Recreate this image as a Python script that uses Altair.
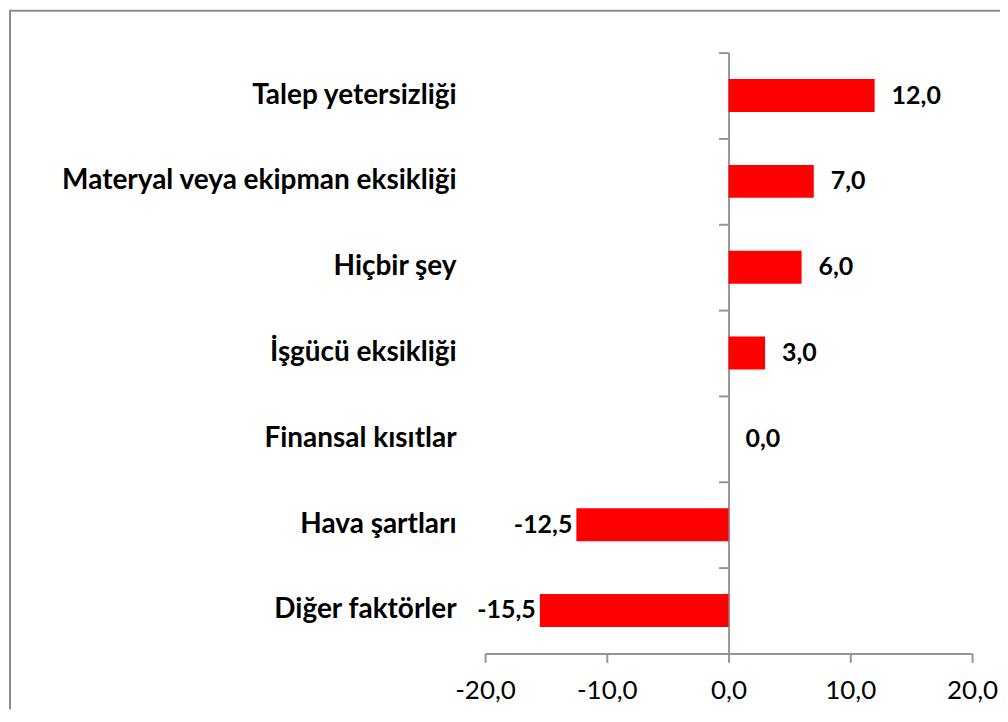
import altair as alt
import pandas as pd

categories = [
    "Talep yetersizliği",
    "Materyal veya ekipman eksikliği",
    "Hiçbir şey",
    "İşgücü eksikliği",
    "Finansal kısıtlar",
    "Hava şartları",
    "Diğer faktörler",
]
values = [12.0, 7.0, 6.0, 3.0, 0.0, -12.5, -15.5]
x_ticks = [-20, -10, 0, 10, 20]

df = pd.DataFrame({"cat": categories, "v": values})
df["lbl"] = [("-" if v < 0 else "") + f"{abs(v):.1f}".replace(".", ",") for v in values]

FONT = "Lato"
AXIS_GRAY = "#959595"
W, H = 488, 602
PAD = {"left": 478, "top": 44, "right": 28, "bottom": 56}

x_axis = alt.Axis(
    values=x_ticks,
    title=None,
    grid=False,
    domainColor=AXIS_GRAY,
    domainWidth=2,
    tickColor=AXIS_GRAY,
    tickWidth=2,
    tickSize=9,
    labelFont=FONT,
    labelFontSize=26,
    labelColor="black",
    labelPadding=15,
    labelFlush=False,
    labelOverlap=False,
    labelExpr="(datum.value < 0 ? '-' : '') + replace(format(abs(datum.value), '.1f'), '.', ',')",
)
x_enc = alt.X("v:Q", scale=alt.Scale(domain=[-20, 20], nice=False), axis=x_axis)
y_scale = alt.Scale(paddingInner=0, paddingOuter=0)

base = alt.Chart(df)

bars = base.mark_bar(color="#FF0000", size=33).encode(
    x=x_enc,
    y=alt.Y(
        "cat:N",
        sort=categories,
        scale=y_scale,
        axis=alt.Axis(
            orient="left",
            title=None,
            domain=False,
            ticks=False,
            grid=False,
            labelFont=FONT,
            labelFontSize=28,
            labelFontWeight="bold",
            labelColor="black",
            labelPadding=29,
            labelLimit=600,
        ),
    ),
)

pos_text = base.transform_filter("datum.v >= 0").mark_text(
    align="left", baseline="middle", dx=17, font=FONT, fontSize=25, fontWeight="bold", color="black"
).encode(
    x=x_enc,
    y=alt.Y(
        "cat:N",
        sort=categories,
        scale=y_scale,
        axis=alt.Axis(
            orient="left",
            offset=-W / 2,
            title=None,
            labels=False,
            grid=False,
            bandPosition=0,
            domainColor=AXIS_GRAY,
            domainWidth=2,
            tickColor=AXIS_GRAY,
            tickWidth=2,
            tickSize=10,
        ),
    ),
    text="lbl:N",
)

neg_text = base.transform_filter("datum.v < 0").mark_text(
    align="right", baseline="middle", dx=-4, font=FONT, fontSize=25, fontWeight="bold", color="black"
).encode(
    x=x_enc,
    y=alt.Y("cat:N", sort=categories, scale=y_scale, axis=None),
    text="lbl:N",
)

frame_left = alt.Chart(pd.DataFrame({"a": [0]})).mark_rule(color="#8c8c8c", strokeWidth=2).encode(
    x=alt.value(-PAD["left"] + 2), y=alt.value(-43), y2=alt.value(H + PAD["bottom"])
)
frame_top = alt.Chart(pd.DataFrame({"a": [0]})).mark_rule(color="#8c8c8c", strokeWidth=2).encode(
    x=alt.value(-PAD["left"] + 2), x2=alt.value(W + PAD["right"]), y=alt.value(-42)
)

chart = (
    alt.layer(bars, pos_text, neg_text, frame_left, frame_top)
    .resolve_axis(y="independent")
    .properties(
        width=W,
        height=H,
        autosize=alt.AutoSizeParams(type="none"),
        padding=PAD,
        background="white",
    )
    .configure_view(stroke=None)
)

chart.save("out.html", embed_options={"renderer": "svg", "actions": False})
